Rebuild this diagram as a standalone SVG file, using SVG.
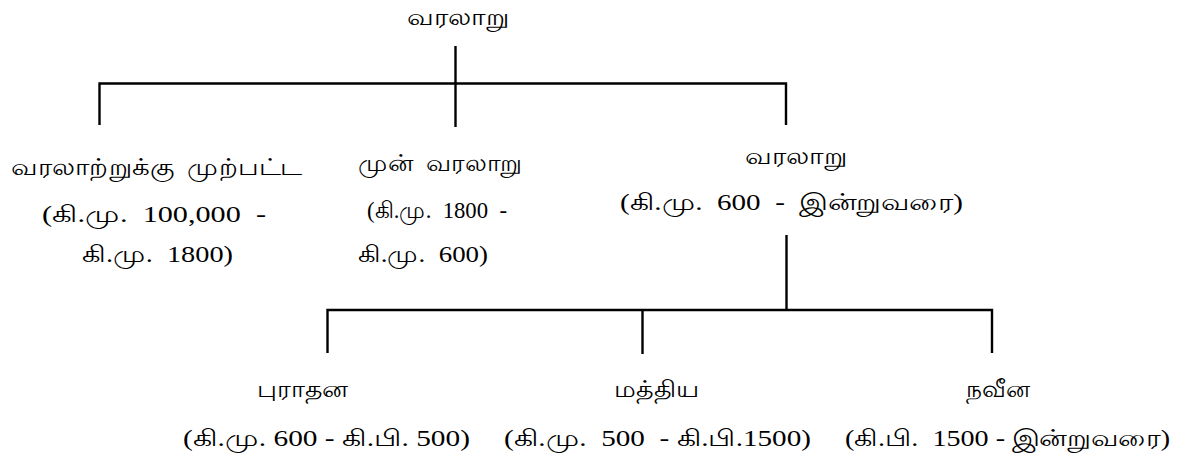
<svg xmlns="http://www.w3.org/2000/svg" width="1183" height="459" viewBox="0 0 1183 459">
<style>
text{font-family:"Liberation Serif","Times New Roman",serif;font-size:22.5px;fill:#000;white-space:pre}
.ln{stroke:#000;stroke-width:2.4;fill:none;stroke-linecap:butt}
</style>
<rect width="1183" height="459" fill="#fff"/>
<g id="connectors">
<path class="ln" d="M455.5 46V127"/>
<path class="ln" d="M99.5 125V83.5H786V125"/>
<path class="ln" d="M786.5 235V310"/>
<path class="ln" d="M327.5 353V310H992V353"/>
<path class="ln" d="M642.5 310V354"/>
</g>
<g id="root"><text x="407" y="25" textLength="102" lengthAdjust="spacingAndGlyphs">வரலாறு</text></g>
<g id="prehistoric">
<text x="11" y="175" textLength="291" lengthAdjust="spacingAndGlyphs">வரலாற்றுக்கு  முற்பட்ட</text>
<text x="42" y="222" textLength="224" lengthAdjust="spacingAndGlyphs">(கி.மு.  100,000  -</text>
<text x="82" y="262" textLength="151" lengthAdjust="spacingAndGlyphs">கி.மு.  1800)</text>
</g>
<g id="protohistoric">
<text x="358" y="171" textLength="164" lengthAdjust="spacingAndGlyphs">முன்  வரலாறு</text>
<text x="367" y="218" textLength="140" lengthAdjust="spacingAndGlyphs">(கி.மு.  1800  -</text>
<text x="358" y="262" textLength="130" lengthAdjust="spacingAndGlyphs">கி.மு.  600)</text>
</g>
<g id="historic">
<text x="745" y="164" textLength="102" lengthAdjust="spacingAndGlyphs">வரலாறு</text>
<text x="620" y="210" textLength="343" lengthAdjust="spacingAndGlyphs">(கி.மு.  600  -  இன்றுவரை)</text>
</g>
<g id="ancient">
<text x="257" y="397" textLength="91" lengthAdjust="spacingAndGlyphs">புராதன</text>
<text x="183" y="446" textLength="287" lengthAdjust="spacingAndGlyphs">(கி.மு. 600 - கி.பி. 500)</text>
</g>
<g id="medieval">
<text x="614" y="397" textLength="86" lengthAdjust="spacingAndGlyphs">மத்திய</text>
<text x="504" y="446" textLength="307" lengthAdjust="spacingAndGlyphs">(கி.மு.  500  - கி.பி.1500)</text>
</g>
<g id="modern">
<text x="966" y="397" textLength="64" lengthAdjust="spacingAndGlyphs">நவீன</text>
<text x="845" y="446" textLength="325" lengthAdjust="spacingAndGlyphs">(கி.பி.  1500 - இன்றுவரை)</text>
</g>
</svg>
